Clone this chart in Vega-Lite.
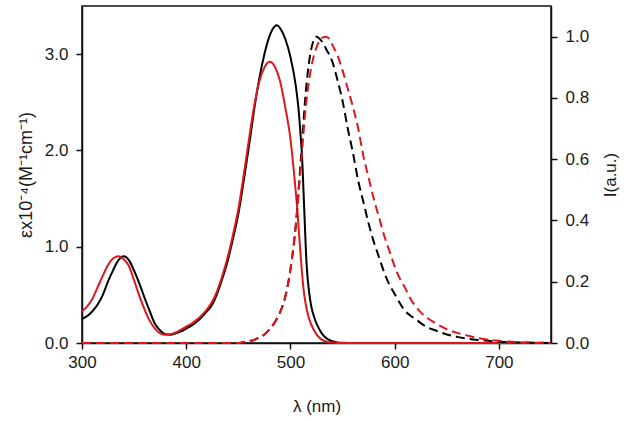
{
  "$schema": "https://vega.github.io/schema/vega-lite/v6.json",
  "width": 469,
  "height": 337,
  "autosize": "none",
  "padding": {"left": 82, "top": 6, "right": 79, "bottom": 78},
  "background": "white",
  "datasets": {
    "abs": [
      {"wl":300,"v":0.25,"s":"b"},{"wl":305,"v":0.28,"s":"b"},{"wl":310,"v":0.33,"s":"b"},{"wl":315,"v":0.40,"s":"b"},{"wl":320,"v":0.50,"s":"b"},{"wl":325,"v":0.64,"s":"b"},{"wl":330,"v":0.76,"s":"b"},{"wl":335,"v":0.86,"s":"b"},{"wl":340,"v":0.90,"s":"b"},{"wl":345,"v":0.86,"s":"b"},{"wl":350,"v":0.75,"s":"b"},{"wl":355,"v":0.62,"s":"b"},{"wl":360,"v":0.47,"s":"b"},{"wl":365,"v":0.33,"s":"b"},{"wl":370,"v":0.20,"s":"b"},{"wl":375,"v":0.13,"s":"b"},{"wl":380,"v":0.09,"s":"b"},{"wl":385,"v":0.085,"s":"b"},{"wl":390,"v":0.10,"s":"b"},{"wl":395,"v":0.12,"s":"b"},{"wl":400,"v":0.15,"s":"b"},{"wl":405,"v":0.18,"s":"b"},{"wl":410,"v":0.22,"s":"b"},{"wl":415,"v":0.27,"s":"b"},{"wl":420,"v":0.33,"s":"b"},{"wl":425,"v":0.40,"s":"b"},{"wl":430,"v":0.52,"s":"b"},{"wl":435,"v":0.68,"s":"b"},{"wl":440,"v":0.86,"s":"b"},{"wl":445,"v":1.09,"s":"b"},{"wl":450,"v":1.34,"s":"b"},{"wl":455,"v":1.67,"s":"b"},{"wl":460,"v":2.03,"s":"b"},{"wl":465,"v":2.41,"s":"b"},{"wl":470,"v":2.74,"s":"b"},{"wl":475,"v":3.00,"s":"b"},{"wl":480,"v":3.19,"s":"b"},{"wl":485,"v":3.29,"s":"b"},{"wl":487,"v":3.30,"s":"b"},{"wl":490,"v":3.27,"s":"b"},{"wl":495,"v":3.16,"s":"b"},{"wl":500,"v":2.97,"s":"b"},{"wl":505,"v":2.68,"s":"b"},{"wl":508,"v":2.40,"s":"b"},{"wl":510,"v":2.12,"s":"b"},{"wl":511,"v":1.97,"s":"b"},{"wl":512,"v":1.72,"s":"b"},{"wl":513,"v":1.45,"s":"b"},{"wl":514,"v":1.18,"s":"b"},{"wl":515,"v":0.92,"s":"b"},{"wl":516,"v":0.74,"s":"b"},{"wl":518,"v":0.52,"s":"b"},{"wl":520,"v":0.38,"s":"b"},{"wl":523,"v":0.26,"s":"b"},{"wl":526,"v":0.18,"s":"b"},{"wl":530,"v":0.10,"s":"b"},{"wl":535,"v":0.045,"s":"b"},{"wl":540,"v":0.018,"s":"b"},{"wl":545,"v":0.006,"s":"b"},{"wl":550,"v":0.002,"s":"b"},{"wl":560,"v":0,"s":"b"},{"wl":650,"v":0,"s":"b"},{"wl":750,"v":0,"s":"b"},
      {"wl":300,"v":0.33,"s":"r"},{"wl":305,"v":0.38,"s":"r"},{"wl":310,"v":0.46,"s":"r"},{"wl":315,"v":0.58,"s":"r"},{"wl":320,"v":0.70,"s":"r"},{"wl":325,"v":0.81,"s":"r"},{"wl":330,"v":0.88,"s":"r"},{"wl":335,"v":0.90,"s":"r"},{"wl":340,"v":0.87,"s":"r"},{"wl":345,"v":0.80,"s":"r"},{"wl":350,"v":0.65,"s":"r"},{"wl":355,"v":0.49,"s":"r"},{"wl":360,"v":0.35,"s":"r"},{"wl":365,"v":0.23,"s":"r"},{"wl":370,"v":0.15,"s":"r"},{"wl":375,"v":0.10,"s":"r"},{"wl":380,"v":0.085,"s":"r"},{"wl":385,"v":0.09,"s":"r"},{"wl":390,"v":0.11,"s":"r"},{"wl":395,"v":0.14,"s":"r"},{"wl":400,"v":0.17,"s":"r"},{"wl":405,"v":0.20,"s":"r"},{"wl":410,"v":0.24,"s":"r"},{"wl":415,"v":0.29,"s":"r"},{"wl":420,"v":0.35,"s":"r"},{"wl":425,"v":0.43,"s":"r"},{"wl":430,"v":0.55,"s":"r"},{"wl":435,"v":0.71,"s":"r"},{"wl":440,"v":0.90,"s":"r"},{"wl":445,"v":1.13,"s":"r"},{"wl":450,"v":1.39,"s":"r"},{"wl":455,"v":1.73,"s":"r"},{"wl":460,"v":2.10,"s":"r"},{"wl":465,"v":2.45,"s":"r"},{"wl":470,"v":2.71,"s":"r"},{"wl":475,"v":2.86,"s":"r"},{"wl":480,"v":2.92,"s":"r"},{"wl":485,"v":2.87,"s":"r"},{"wl":490,"v":2.72,"s":"r"},{"wl":495,"v":2.45,"s":"r"},{"wl":500,"v":2.12,"s":"r"},{"wl":504,"v":1.70,"s":"r"},{"wl":507,"v":1.33,"s":"r"},{"wl":509,"v":1.02,"s":"r"},{"wl":511,"v":0.74,"s":"r"},{"wl":513,"v":0.52,"s":"r"},{"wl":516,"v":0.33,"s":"r"},{"wl":520,"v":0.19,"s":"r"},{"wl":525,"v":0.09,"s":"r"},{"wl":530,"v":0.035,"s":"r"},{"wl":535,"v":0.012,"s":"r"},{"wl":540,"v":0.004,"s":"r"},{"wl":545,"v":0,"s":"r"},{"wl":650,"v":0,"s":"r"},{"wl":750,"v":0,"s":"r"}
    ],
    "em": [
      {"wl":300,"v":0,"s":"b"},{"wl":450,"v":0,"s":"b"},{"wl":455,"v":0.003,"s":"b"},{"wl":460,"v":0.006,"s":"b"},{"wl":465,"v":0.01,"s":"b"},{"wl":470,"v":0.018,"s":"b"},{"wl":475,"v":0.028,"s":"b"},{"wl":480,"v":0.045,"s":"b"},{"wl":485,"v":0.068,"s":"b"},{"wl":490,"v":0.10,"s":"b"},{"wl":495,"v":0.15,"s":"b"},{"wl":500,"v":0.24,"s":"b"},{"wl":505,"v":0.38,"s":"b"},{"wl":510,"v":0.60,"s":"b"},{"wl":515,"v":0.83,"s":"b"},{"wl":520,"v":0.96,"s":"b"},{"wl":525,"v":1.0,"s":"b"},{"wl":530,"v":0.985,"s":"b"},{"wl":535,"v":0.955,"s":"b"},{"wl":540,"v":0.92,"s":"b"},{"wl":545,"v":0.86,"s":"b"},{"wl":550,"v":0.79,"s":"b"},{"wl":555,"v":0.70,"s":"b"},{"wl":560,"v":0.62,"s":"b"},{"wl":565,"v":0.53,"s":"b"},{"wl":570,"v":0.46,"s":"b"},{"wl":575,"v":0.39,"s":"b"},{"wl":580,"v":0.33,"s":"b"},{"wl":585,"v":0.28,"s":"b"},{"wl":590,"v":0.23,"s":"b"},{"wl":595,"v":0.19,"s":"b"},{"wl":600,"v":0.16,"s":"b"},{"wl":605,"v":0.13,"s":"b"},{"wl":610,"v":0.105,"s":"b"},{"wl":615,"v":0.09,"s":"b"},{"wl":620,"v":0.078,"s":"b"},{"wl":625,"v":0.065,"s":"b"},{"wl":630,"v":0.054,"s":"b"},{"wl":640,"v":0.04,"s":"b"},{"wl":650,"v":0.028,"s":"b"},{"wl":660,"v":0.02,"s":"b"},{"wl":670,"v":0.014,"s":"b"},{"wl":680,"v":0.01,"s":"b"},{"wl":690,"v":0.007,"s":"b"},{"wl":700,"v":0.004,"s":"b"},{"wl":720,"v":0.002,"s":"b"},{"wl":750,"v":0,"s":"b"},
      {"wl":300,"v":0,"s":"r"},{"wl":450,"v":0,"s":"r"},{"wl":455,"v":0.003,"s":"r"},{"wl":460,"v":0.006,"s":"r"},{"wl":465,"v":0.01,"s":"r"},{"wl":470,"v":0.018,"s":"r"},{"wl":475,"v":0.028,"s":"r"},{"wl":480,"v":0.045,"s":"r"},{"wl":485,"v":0.068,"s":"r"},{"wl":490,"v":0.10,"s":"r"},{"wl":495,"v":0.15,"s":"r"},{"wl":500,"v":0.24,"s":"r"},{"wl":505,"v":0.38,"s":"r"},{"wl":510,"v":0.58,"s":"r"},{"wl":515,"v":0.78,"s":"r"},{"wl":520,"v":0.90,"s":"r"},{"wl":525,"v":0.965,"s":"r"},{"wl":530,"v":0.995,"s":"r"},{"wl":534,"v":1.0,"s":"r"},{"wl":538,"v":0.99,"s":"r"},{"wl":540,"v":0.975,"s":"r"},{"wl":545,"v":0.94,"s":"r"},{"wl":550,"v":0.89,"s":"r"},{"wl":555,"v":0.83,"s":"r"},{"wl":560,"v":0.77,"s":"r"},{"wl":565,"v":0.70,"s":"r"},{"wl":570,"v":0.61,"s":"r"},{"wl":575,"v":0.54,"s":"r"},{"wl":580,"v":0.47,"s":"r"},{"wl":585,"v":0.41,"s":"r"},{"wl":590,"v":0.35,"s":"r"},{"wl":595,"v":0.30,"s":"r"},{"wl":600,"v":0.25,"s":"r"},{"wl":605,"v":0.21,"s":"r"},{"wl":610,"v":0.18,"s":"r"},{"wl":615,"v":0.145,"s":"r"},{"wl":620,"v":0.12,"s":"r"},{"wl":625,"v":0.10,"s":"r"},{"wl":630,"v":0.085,"s":"r"},{"wl":640,"v":0.063,"s":"r"},{"wl":650,"v":0.045,"s":"r"},{"wl":660,"v":0.033,"s":"r"},{"wl":670,"v":0.024,"s":"r"},{"wl":680,"v":0.016,"s":"r"},{"wl":690,"v":0.011,"s":"r"},{"wl":700,"v":0.007,"s":"r"},{"wl":720,"v":0.003,"s":"r"},{"wl":750,"v":0,"s":"r"}
    ]
  },
  "layer": [
    {
      "data": {"name": "abs"},
      "mark": {"type": "line", "interpolate": "monotone", "strokeWidth": 2},
      "encoding": {
        "x": {"field": "wl", "type": "quantitative", "scale": {"domain": [300, 750], "nice": false, "zero": false},
              "axis": {"values": [300, 400, 500, 600, 700], "title": "λ (nm)", "labelPadding": 5, "titlePadding": 28}},
        "y": {"field": "v", "type": "quantitative", "scale": {"domain": [0, 3.5], "nice": false},
              "axis": {"orient": "left", "values": [0, 1, 2, 3], "format": ".1f", "title": "εx10⁻⁴(M⁻¹cm⁻¹)", "labelPadding": 8, "titlePadding": 9, "titleFontSize": 18}},
        "color": {"field": "s", "type": "nominal", "scale": {"domain": ["b", "r"], "range": ["#000000", "#e0161c"]}, "legend": null}
      }
    },
    {
      "data": {"name": "em"},
      "mark": {"type": "line", "interpolate": "monotone", "strokeWidth": 2, "strokeDash": [9, 5]},
      "encoding": {
        "x": {"field": "wl", "type": "quantitative", "scale": {"domain": [300, 750], "nice": false, "zero": false}},
        "y": {"field": "v", "type": "quantitative", "scale": {"domain": [0, 1.1], "nice": false},
              "axis": {"orient": "right", "values": [0, 0.2, 0.4, 0.6, 0.8, 1.0], "format": ".1f", "title": "I(a.u.)", "titleAngle": -90, "labelPadding": 8, "titlePadding": 31}},
        "color": {"field": "s", "type": "nominal", "scale": {"domain": ["b", "r"], "range": ["#000000", "#e0161c"]}, "legend": null}
      }
    }
  ],
  "resolve": {"scale": {"y": "independent"}},
  "config": {
    "view": {"stroke": "#111", "strokeWidth": 1.5},
    "axis": {
      "grid": false,
      "labelFlush": false,
      "labelOverlap": false,
      "domainColor": "#111", "domainWidth": 1.5,
      "tickColor": "#111", "tickWidth": 1.5, "tickSize": 6,
      "labelFont": "Liberation Sans", "labelFontSize": 17, "labelColor": "#1a1a1a",
      "titleFont": "Liberation Sans", "titleFontSize": 17, "titleFontWeight": "normal", "titleColor": "#1a1a1a"
    }
  }
}
